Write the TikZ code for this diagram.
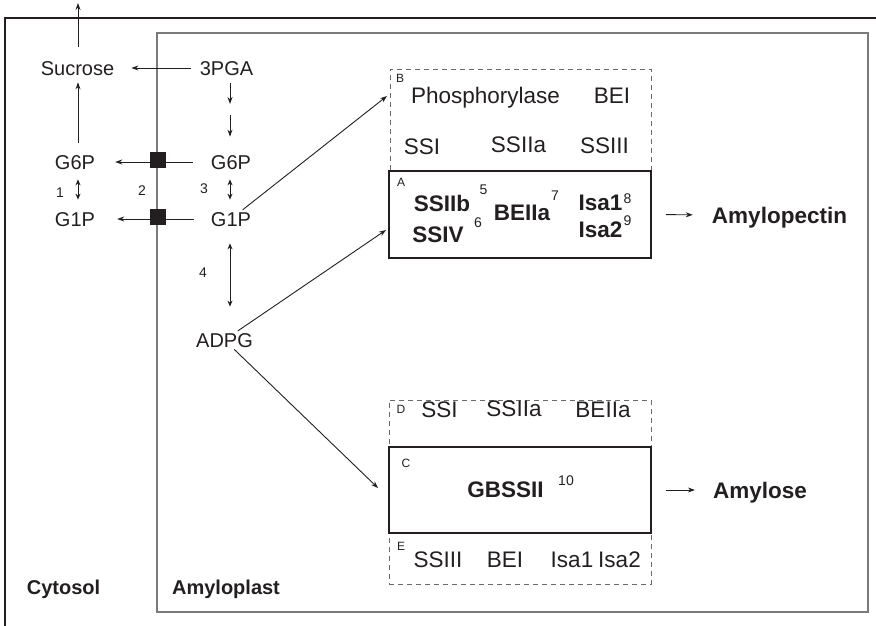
\documentclass[tikz,border=0pt]{standalone}
\usepackage{fontspec}
\setmainfont{Liberation Sans}
\usetikzlibrary{arrows.meta}
\definecolor{ink}{HTML}{231F20}
\definecolor{membgray}{HTML}{7A7A7A}
\definecolor{dashgray}{HTML}{6A6A6A}
\begin{document}
\begin{tikzpicture}[x=1pt,y=-1pt,
  tx/.style={inner sep=0pt, text height=14.3pt, text depth=0pt, font=\fontsize{20}{24}\selectfont, text=ink},
  txb/.style={tx, font=\fontsize{20}{24}\selectfont\bfseries},
  bx/.style={inner sep=0pt, text height=16.1pt, text depth=0pt, font=\fontsize{22.5}{27}\selectfont, text=ink},
  bb/.style={bx, font=\fontsize{22.5}{27}\selectfont\bfseries},
  lb/.style={inner sep=0pt, text height=10pt, text depth=0pt, font=\fontsize{14}{16}\selectfont, text=ink},
  corner/.style={inner sep=0pt, text height=8.6pt, text depth=0pt, font=\fontsize{12}{14}\selectfont, text=ink},
  arr/.style={draw=ink, line width=0.9pt, -{Stealth[length=7pt,width=5pt]}},
  dbl/.style={draw=ink, line width=0.9pt, {Stealth[length=6pt,width=5pt]}-{Stealth[length=6pt,width=5pt]}},
  solidbox/.style={draw=ink, line width=2.2pt, inner sep=0pt},
  dashbox/.style={draw=dashgray, line width=0.9pt, dash pattern=on 5pt off 4pt, inner sep=0pt},
  port/.style={fill=ink, minimum size=16pt, inner sep=0pt}
]
\useasboundingbox (0,0) rectangle (876,626);

% compartments
\draw[ink, line width=1.2pt] (5,626) -- (5,18) -- (876,18);
\node[draw=membgray, line width=1.2pt, minimum width=711pt, minimum height=579pt, inner sep=0pt] (plastid) at (512.5,322.5) {};

% enzyme boxes
\node[dashbox, minimum width=261pt, minimum height=102pt] (boxB) at (520.5,120) {};
\node[solidbox, fill=white, minimum width=262pt, minimum height=87pt] (boxA) at (520,214.5) {};
\node[dashbox, minimum width=262pt, minimum height=184pt] (boxDE) at (520,492) {};
\node[solidbox, fill=white, minimum width=262pt, minimum height=86pt] (boxC) at (520,490) {};

% metabolites
\node[tx] (sucrose) at (77.5,68) {Sucrose};
\node[tx] (pga) at (226.5,68) {3PGA};
\node[tx] (g6pc) at (75,162) {G6P};
\node[tx] (g6pp) at (231,162) {G6P};
\node[tx] (g1pc) at (75,219) {G1P};
\node[tx] (g1pp) at (231,219) {G1P};
\node[tx] (adpg) at (224.5,340) {ADPG};

\node[lb] (n1) at (60,192) {1};
\node[lb] (n2) at (142,190) {2};
\node[lb] (n3) at (204,188) {3};
\node[lb] (n4) at (203,272) {4};

\coordinate (exit) at (78,3);
\coordinate (midpga) at (230,110);
\coordinate (tipB) at (387,96);
\coordinate (tipA) at (386,230);
\coordinate (tipC) at (378,488);

% connectors
\draw[arr, shorten <=14pt] (sucrose.north -| exit) -- (exit);
\draw[arr, shorten <=9pt, shorten >=17pt] (pga.west) -- (sucrose.east);
\draw[arr, shorten <=12pt, shorten >=7pt] (g6pc.north -| exit) -- (sucrose.south -| exit);
\draw[arr, shorten <=8pt, shorten >=6pt] (pga.south -| midpga) -- (midpga);
\draw[arr, shorten <=5pt, shorten >=18pt] (midpga) -- (g6pp.north -| midpga);
\draw[arr, shorten <=18pt, shorten >=20pt] (g6pp.west) -- (g6pc.east);
\draw[arr, shorten <=17pt, shorten >=22pt] (g1pp.west) -- (g1pc.east);
\draw[dbl, shorten <=10pt, shorten >=12pt] (g6pc.south -| exit) -- (g1pc.north -| exit);
\draw[dbl, shorten <=10pt, shorten >=12pt] (g6pp.south -| midpga) -- (g1pp.north -| midpga);
\draw[dbl, shorten <=17pt, shorten >=26pt] (g1pp.south -| midpga) -- (adpg.north -| midpga);
\draw[arr, shorten <=3pt] (g1pp) -- (tipB);
\draw[arr, shorten <=3pt] (adpg) -- (tipA);
\draw[arr, shorten <=3pt] (adpg) -- (tipC);

\node[port] (t1) at (158,160) {};
\node[port] (t2) at (158,217) {};

% box B
\node[corner] (lB) at (400,78.7) {B};
\node[bx] (phos) at (485.5,95) {Phosphorylase};
\node[bx] (beiB) at (612,95) {BEI};
\node[bx] (ssiB) at (422,146) {SSI};
\node[bx] (ssiiaB) at (518.5,144) {SSIIa};
\node[bx] (ssiiiB) at (604.5,145) {SSIII};

% box A
\node[corner] (lA) at (401,181.7) {A};
\node[bb] (ssiib) at (442,203) {SSIIb};
\node[bb] (ssiv) at (438,234) {SSIV};
\node[bb] (beiia) at (522,212) {BEIIa};
\node[bb] (isa1) at (600.5,202) {Isa1};
\node[bb] (isa2) at (600.5,229) {Isa2};
\node[lb] (s5) at (483.5,189) {5};
\node[lb] (s6) at (478,222) {6};
\node[lb] (s7) at (555,195.5) {7};
\node[lb] (s8) at (627.5,198) {8};
\node[lb] (s9) at (627.5,220.5) {9};

% box D
\node[corner] (lD) at (401,409) {D};
\node[bx] (ssiD) at (439.5,409) {SSI};
\node[bx] (ssiiaD) at (514,408) {SSIIa};
\node[bx] (beiiaD) at (603,409) {BEIIa};

% box C
\node[corner] (lC) at (406,462.7) {C};
\node[bb] (gbss) at (505.5,489) {GBSSII};
\node[lb] (s10) at (566,480) {10};

% box E
\node[corner] (lE) at (401,545.7) {E};
\node[bx] (ssiiiE) at (438,559) {SSIII};
\node[bx] (beiE) at (505,559) {BEI};
\node[bx] (isa1E) at (572,559) {Isa1};
\node[bx] (isa2E) at (619.5,559) {Isa2};

% products
\node[bb] (amylopectin) at (779.5,215) {Amylopectin};
\node[bb] (amylose) at (760,490) {Amylose};
\draw[arr, shorten <=14pt, shorten >=19pt] (boxA.east) -- (amylopectin.west);
\draw[arr, shorten <=14pt, shorten >=18pt] (boxC.east) -- (amylose.west);

% compartment labels
\node[txb] (cyt) at (63.5,587) {Cytosol};
\node[txb] (amyl) at (226,587) {Amyloplast};
\end{tikzpicture}
\end{document}
